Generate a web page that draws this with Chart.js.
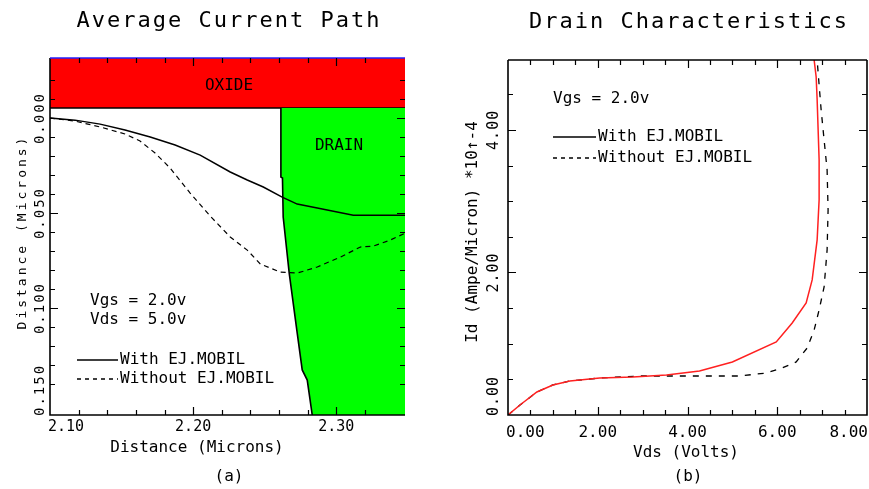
<!DOCTYPE html>
<html>
<head>
<meta charset="utf-8">
<script src="https://cdn.jsdelivr.net/npm/chart.js@4.4.0/dist/chart.umd.min.js"></script>
<style>
    html, body { margin: 0; padding: 0; background: #fff; }
    #wrap { position: relative; width: 869px; height: 489px; }
    canvas { position: absolute; top: 0; }
    #pathChart { left: 0; }
    #drainChart { left: 435px; }
</style>
</head>
<body>
<div id="wrap">
    <canvas id="pathChart" width="435" height="489"></canvas>
    <canvas id="drainChart" width="434" height="489"></canvas>
</div>
<script>
const FONT = '"DejaVu Sans Mono", monospace';

// (a) Average current path, distances in microns
const withPathX = [2.100, 2.1175, 2.135, 2.1524, 2.170, 2.1874, 2.2049, 2.2259, 2.2378, 2.2490, 2.2622, 2.2727, 2.2867, 2.3119, 2.3483];
const withPathY = [0, 0.0011, 0.0032, 0.0063, 0.0100, 0.0142, 0.0195, 0.0284, 0.0326, 0.0363, 0.0416, 0.0453, 0.0474, 0.0511, 0.0511];
const withoutPathX = [2.100, 2.1175, 2.135, 2.1524, 2.1629, 2.1734, 2.1839, 2.1979, 2.2119, 2.2259, 2.2378, 2.2469, 2.2608, 2.2727, 2.2867, 2.3028, 2.3168, 2.3259, 2.3378, 2.3483];
const withoutPathY = [0, 0.0016, 0.0047, 0.0084, 0.0121, 0.0184, 0.0263, 0.0395, 0.0516, 0.0626, 0.0695, 0.0768, 0.0811, 0.0816, 0.0784, 0.0732, 0.0679, 0.0674, 0.0642, 0.0605];
const drainEdgeX = [2.2613, 2.2613, 2.2624, 2.2629, 2.2671, 2.2727, 2.2762, 2.2797, 2.2832];
const drainEdgeY = [-0.0053, 0.0311, 0.0316, 0.0521, 0.0816, 0.1132, 0.1326, 0.1379, 0.1563];
const oxideBottom = -0.0053;
const pathXRange = [2.10, 2.348];
const pathYRange = [-0.0316, 0.1563];
const pathXTicks = [2.10, 2.20, 2.30];
const pathYTicks = [0.000, 0.050, 0.100, 0.150];

// (b) Drain characteristics, Vds in volts, Id in A/micron *1e-4
const vdsWith = [0, 0.267, 0.644, 1.0, 1.378, 2.044, 2.778, 3.533, 4.267, 5.0, 5.978, 6.333, 6.644, 6.778, 6.889, 6.933, 6.933, 6.911, 6.889, 6.867, 6.822];
const idWith = [0, 0.14, 0.323, 0.421, 0.477, 0.519, 0.533, 0.561, 0.618, 0.744, 1.025, 1.291, 1.572, 1.895, 2.456, 3.018, 3.579, 4.0, 4.421, 4.744, 4.98];
const vdsWithout = [0, 0.267, 0.644, 1.0, 1.378, 2.044, 2.933, 4.267, 5.156, 5.756, 6.111, 6.422, 6.667, 6.822, 6.933, 7.044, 7.111, 7.133, 7.111, 7.044, 6.978, 6.933, 6.889];
const idWithout = [0, 0.14, 0.323, 0.421, 0.477, 0.519, 0.547, 0.547, 0.547, 0.589, 0.66, 0.744, 0.94, 1.193, 1.474, 1.796, 2.316, 2.877, 3.439, 3.86, 4.28, 4.63, 4.98];
const vdsRange = [0, 8];
const idRange = [0, 4.98];
const vdsTicks = [0, 2, 4, 6, 8];
const idTicks = [0, 2, 4];

const pts = (xs, ys) => xs.map((x, i) => ({ x: x, y: ys[i] }));

function hiddenScale(range, step, reverse) {
    return {
        type: 'linear', min: range[0], max: range[1], reverse: reverse,
        ticks: { display: false, stepSize: step, autoSkip: false },
        grid: { display: false },
        border: { display: false },
        afterFit: s => { if (s.isHorizontal()) s.height = 0; else s.width = 0; }
    };
}

function setSpacing(ctx, px) {
    if ('letterSpacing' in ctx) ctx.letterSpacing = px + 'px';
}

function text(ctx, str, x, y, o = {}) {
    ctx.save();
    ctx.font = (o.size || 16) + 'px ' + FONT;
    ctx.fillStyle = '#000';
    ctx.textAlign = o.align || 'left';
    ctx.textBaseline = 'middle';
    setSpacing(ctx, o.spacing || 0);
    ctx.translate(x, y);
    if (o.rotate) ctx.rotate(-Math.PI / 2);
    ctx.fillText(str, 0, 0);
    ctx.restore();
}

function legendRow(ctx, x1, x2, y, dash, str) {
    ctx.save();
    ctx.strokeStyle = '#000';
    ctx.lineWidth = 1.3;
    ctx.setLineDash(dash);
    ctx.beginPath();
    ctx.moveTo(x1, y);
    ctx.lineTo(x2, y);
    ctx.stroke();
    ctx.restore();
    text(ctx, str, x2 + 2, y);
}

// frame, inward tick marks and tick labels, all positioned from the chart scales
function drawAxes(chart, o) {
    const { ctx, chartArea: a } = chart;
    const xs = chart.scales.x, ys = chart.scales.y;
    const isMajor = (v, list) => list.some(m => Math.abs(m - v) < 1e-6);
    const atEdge = (v, s) => Math.abs(v - s.min) < 1e-6 || Math.abs(v - s.max) < 1e-6;
    ctx.save();
    ctx.lineWidth = 1.6;
    ctx.strokeStyle = '#000';
    ctx.beginPath();
    ctx.moveTo(a.left, a.top);
    ctx.lineTo(a.left, a.bottom);
    ctx.lineTo(a.right, a.bottom);
    if (o.rightEdge) ctx.lineTo(a.right, a.top);
    ctx.stroke();
    ctx.strokeStyle = o.topColor;
    ctx.beginPath();
    ctx.moveTo(a.left, a.top);
    ctx.lineTo(a.right, a.top);
    ctx.stroke();

    ctx.strokeStyle = '#000';
    ctx.lineWidth = 1.2;
    xs.ticks.forEach(t => {
        if (atEdge(t.value, xs)) return;
        const px = Math.round(xs.getPixelForValue(t.value)) + 0.5;
        const len = isMajor(t.value, o.xTicks) ? 8 : 5;
        ctx.beginPath();
        ctx.moveTo(px, a.bottom); ctx.lineTo(px, a.bottom - len);
        ctx.moveTo(px, a.top); ctx.lineTo(px, a.top + len);
        ctx.stroke();
    });
    ys.ticks.forEach(t => {
        if (atEdge(t.value, ys)) return;
        const py = Math.round(ys.getPixelForValue(t.value)) + 0.5;
        const len = isMajor(t.value, o.yTicks) ? 8 : 5;
        ctx.beginPath();
        ctx.moveTo(a.left, py); ctx.lineTo(a.left + len, py);
        ctx.moveTo(a.right, py); ctx.lineTo(a.right - len, py);
        ctx.stroke();
    });

    ctx.fillStyle = '#000';
    ctx.textBaseline = 'middle';
    ctx.textAlign = 'center';
    ctx.font = o.xTickSize + 'px ' + FONT;
    o.xTicks.forEach(v => {
        const s = v.toFixed(o.xDigits);
        const w = ctx.measureText(s).width;
        let cx = xs.getPixelForValue(v);
        cx = Math.max(a.left - 2 + w / 2, Math.min(a.right + 1 - w / 2, cx));
        ctx.fillText(s, cx, o.xLabelY);
    });
    ctx.font = o.yTickSize + 'px ' + FONT;
    setSpacing(ctx, o.ySpacing);
    o.yTicks.forEach(v => {
        const s = v.toFixed(o.yDigits);
        const w = ctx.measureText(s).width;
        let cy = ys.getPixelForValue(v);
        cy = Math.max(a.top + w / 2, Math.min(a.bottom + 1 - w / 2, cy));
        ctx.save();
        ctx.translate(o.yLabelX, cy);
        ctx.rotate(-Math.PI / 2);
        ctx.fillText(s, 0, 0);
        ctx.restore();
    });
    setSpacing(ctx, 0);
    ctx.restore();
}

const pathDecor = {
    id: 'pathDecor',
    afterDraw(chart) {
        const ctx = chart.ctx;
        drawAxes(chart, {
            xTicks: pathXTicks, yTicks: pathYTicks, xDigits: 2, yDigits: 3,
            xTickSize: 15, yTickSize: 14, ySpacing: 2,
            xLabelY: 427, yLabelX: 40, topColor: '#2020ff', rightEdge: false
        });
        text(ctx, 'Average Current Path', 229, 21, { size: 22, spacing: 2, align: 'center' });
        text(ctx, 'OXIDE', 229, 86, { align: 'center' });
        text(ctx, 'DRAIN', 339, 146, { align: 'center' });
        text(ctx, 'Vgs = 2.0v', 90, 301);
        text(ctx, 'Vds = 5.0v', 90, 320);
        legendRow(ctx, 77, 118, 360, [], 'With EJ.MOBIL');
        legendRow(ctx, 77, 118, 379, [4, 4], 'Without EJ.MOBIL');
        text(ctx, 'Distance (Microns)', 197, 448, { align: 'center' });
        text(ctx, '(a)', 229, 477, { align: 'center' });
        text(ctx, 'Distance (Microns)', 23, 232, { size: 13, spacing: 3, align: 'center', rotate: true });
    }
};

const drainDecor = {
    id: 'drainDecor',
    afterDraw(chart) {
        const ctx = chart.ctx;
        drawAxes(chart, {
            xTicks: vdsTicks, yTicks: idTicks, xDigits: 2, yDigits: 2,
            xTickSize: 16, yTickSize: 15, ySpacing: 1,
            xLabelY: 433, yLabelX: 59, topColor: '#000', rightEdge: true
        });
        text(ctx, 'Drain Characteristics', 254, 22, { size: 22, spacing: 2, align: 'center' });
        text(ctx, 'Vgs = 2.0v', 118, 99);
        legendRow(ctx, 118, 161, 137, [], 'With EJ.MOBIL');
        legendRow(ctx, 118, 161, 158, [4, 4], 'Without EJ.MOBIL');
        text(ctx, 'Vds (Volts)', 251, 453, { align: 'center' });
        text(ctx, '(b)', 253, 477, { align: 'center' });
        text(ctx, 'Id (Ampe/Micron) *10\u2191-4', 38, 232, { align: 'center', rotate: true });
    }
};

const drainShape = pts(drainEdgeX, drainEdgeY).concat([
    { x: pathXRange[1], y: pathYRange[1] },
    { x: pathXRange[1], y: oxideBottom }
]);

new Chart(document.getElementById('pathChart'), {
    type: 'line',
    data: {
        datasets: [
            { label: 'With EJ.MOBIL', data: pts(withPathX, withPathY), borderColor: '#000', borderWidth: 1.5, pointRadius: 0, fill: false },
            { label: 'Without EJ.MOBIL', data: pts(withoutPathX, withoutPathY), borderColor: '#000', borderWidth: 1.2, borderDash: [5, 4], pointRadius: 0, fill: false },
            { label: 'Drain edge', data: pts(drainEdgeX, drainEdgeY), borderColor: '#000', borderWidth: 1.6, pointRadius: 0, fill: false },
            { label: 'DRAIN', data: drainShape, borderColor: 'rgba(0,0,0,0)', borderWidth: 0, backgroundColor: '#00ff00', pointRadius: 0, fill: 'shape' },
            { label: 'OXIDE', data: [{ x: pathXRange[0], y: oxideBottom }, { x: pathXRange[1], y: oxideBottom }],
              borderColor: '#000', borderWidth: 1.6, backgroundColor: '#ff0000', pointRadius: 0, fill: { value: pathYRange[0] } }
        ]
    },
    options: {
        responsive: false,
        animation: false,
        layout: { padding: { left: 50, top: 58, right: 30, bottom: 74 } },
        plugins: { legend: { display: false }, tooltip: { enabled: false } },
        scales: {
            x: hiddenScale(pathXRange, 0.02, false),
            y: hiddenScale(pathYRange, 0.01, true)
        }
    },
    plugins: [pathDecor]
});

new Chart(document.getElementById('drainChart'), {
    type: 'line',
    data: {
        datasets: [
            { label: 'With EJ.MOBIL', data: pts(vdsWith, idWith), borderColor: '#ff2020', borderWidth: 1.5, pointRadius: 0, fill: false },
            { label: 'Without EJ.MOBIL', data: pts(vdsWithout, idWithout), borderColor: '#000', borderWidth: 1.3, borderDash: [6, 7], pointRadius: 0, fill: false }
        ]
    },
    options: {
        responsive: false,
        animation: false,
        layout: { padding: { left: 73, top: 60, right: 2, bottom: 74 } },
        plugins: { legend: { display: false }, tooltip: { enabled: false } },
        scales: {
            x: hiddenScale(vdsRange, 0.5, false),
            y: hiddenScale(idRange, 0.5, false)
        }
    },
    plugins: [drainDecor]
});
</script>
</body>
</html>
